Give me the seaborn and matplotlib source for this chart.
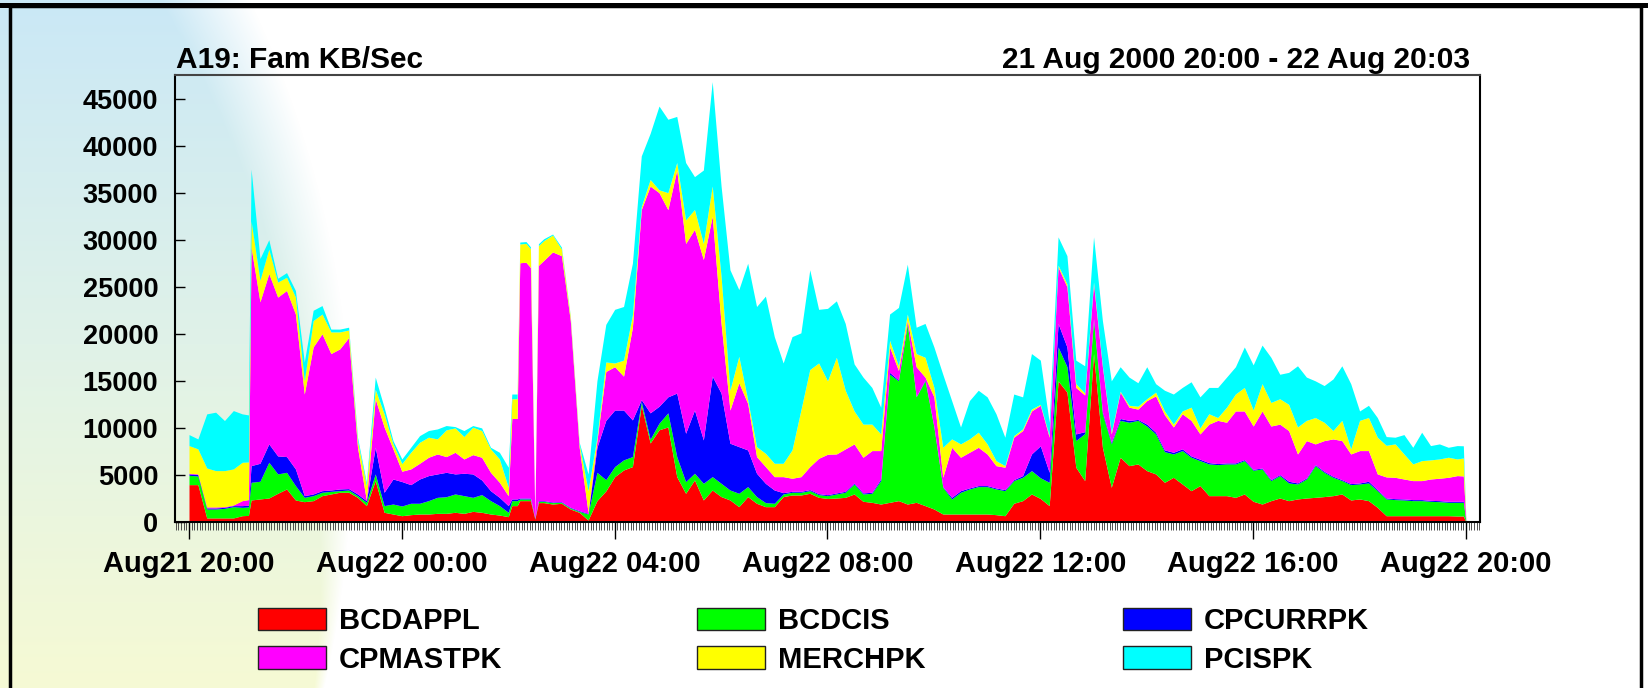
import numpy as np
import matplotlib
matplotlib.use("Agg")
import matplotlib.pyplot as plt
import seaborn as sns
from matplotlib.patches import Rectangle, Patch
from matplotlib.ticker import FixedLocator, MultipleLocator

# ---------------- data (KB/sec; sample times in minutes after Aug21 20:00) ----------------
minutes = (list(range(0, 61, 10)) + [67] + list(range(70, 361, 10))
           + [364, 370, 373, 380, 385, 390, 394] + list(range(400, 1431, 10)) + [1437, 1440])

bcdappl = [3970,3970,430,430,430,430,670,700,2340,2450,2550,
           3050,3510,2340,2160,2270,2800,2980,3160,3160,2620,
           1740,4400,1030,850,670,780,850,850,920,920,
           1030,920,1130,1030,850,740,570,1740,1740,2270,2270,2270,320,2060,
           2060,1910,1990,1380,1030,210,2270,3300,4820,5530,
           5890,12400,8400,9800,10100,4820,3050,4470,2340,3400,
           2700,2340,1630,2700,1990,1630,1630,2700,2870,2870,
           3050,2620,2500,2550,2620,2980,2200,2090,1910,2090,
           2270,1910,2090,1740,1380,850,850,850,850,850,
           850,780,670,1990,2270,2980,2500,1740,15000,13800,
           5820,4400,17900,7940,3690,6880,5990,6170,5460,5110,
           4220,4750,4040,3330,3870,2800,2800,2800,2620,2980,
           2200,1910,2270,2550,2270,2450,2550,2620,2700,2800,
           2980,2340,2450,2270,1560,670,670,670,670,670,
           670,670,670,640,640,0]

bcdcis = [990,920,950,950,1020,1200,890,900,1880,1880,3800,
          2060,1770,1530,460,530,360,280,170,240,180,
          350,710,710,1060,1030,1210,1140,1420,1700,1770,
          1950,1880,1490,1880,1420,1000,460,530,530,180,180,180,70,140,
          140,150,100,110,100,640,3010,1200,1070,1070,
          1060,400,400,700,1500,2130,1240,710,1770,1420,
          1410,1060,1420,1060,710,430,360,280,290,290,
          280,290,300,430,540,1060,780,960,2490,13610,
          12730,19190,11210,13260,8720,2840,1600,2310,2660,2910,
          2910,2730,2660,2410,2480,2480,2200,2480,3600,2700,
          2830,5000,3500,3560,4610,3920,4610,4630,4740,4250,
          3260,2480,3550,3550,2650,3370,3300,3370,3550,3540,
          3300,3730,2130,2380,1880,1590,2020,3370,2580,1950,
          1420,1630,1590,1880,1770,1780,1710,1670,1600,1600,
          1530,1490,1420,1450,1450,0]

cpcurrpk = [150,150,110,110,110,110,180,180,1770,1910,1950,
            1910,1670,1770,180,180,170,140,180,150,180,
            180,2830,1420,2660,2600,1980,2580,2660,2490,2590,
            2130,2380,2490,1560,1060,880,710,180,180,100,100,100,40,70,
            70,70,70,70,80,70,2660,6300,6010,5300,
            3900,200,2800,1800,1700,6750,5140,6720,4610,10680,
            9590,4970,4960,3900,2480,2050,1410,140,100,100,
            110,100,100,110,100,110,110,110,170,200,
            100,30,30,100,30,70,170,170,110,110,
            110,110,110,100,180,1770,3400,1060,2500,2100,
            710,200,200,200,170,200,200,100,200,180,
            180,180,180,140,150,140,110,110,110,110,
            100,100,100,110,180,110,110,110,110,110,
            100,110,110,180,110,100,100,110,110,110,
            100,110,110,110,110,0]

cpmastpk = [70,70,110,110,70,70,530,600,23210,17160,18100,
            16880,17650,16460,10800,15620,16670,14500,14890,16050,4960,
            70,5160,6940,3200,1100,1670,1670,1950,2120,1670,
            2300,1520,2050,2410,1950,1600,1060,8550,8550,25000,25050,24500,70,25000,
            25530,26570,26140,19840,6730,110,710,5200,4600,3600,
            9850,20200,24100,22700,19900,23700,20170,19200,19180,17000,
            7400,3530,6790,4940,1770,1780,1420,1700,1390,1560,
            2450,3760,4300,4140,4510,4150,3790,4430,3020,2700,
            1000,270,3170,300,3170,990,5320,3550,3790,4070,
            3360,2370,2380,4510,4790,4570,4300,3730,6000,6400,
            4940,3900,3700,4800,890,2800,1400,1100,2500,3860,
            3740,2690,3730,3780,2690,4090,4590,4320,5520,5170,
            4600,6060,5700,5360,5390,3080,3970,2200,3260,3970,
            4150,3150,3440,3260,1670,2240,2270,2120,2020,2020,
            2270,2380,2550,2730,2700,0]

merchpk = [2940,2660,4140,3860,3830,3830,4080,4000,2800,2300,2600,
           1600,1400,1800,1400,2800,2100,2300,1800,800,710,
           1530,1000,1400,530,800,1770,2230,2130,1600,2840,
           2590,2380,2910,2840,2490,2480,890,2100,2100,2000,2000,2000,70,2100,
           2100,1800,700,400,360,2300,350,1000,400,1700,
           1300,300,700,300,1800,800,2500,2100,1700,3200,
           5000,2100,2800,400,1060,1410,1420,1420,3010,7080,
           10310,10130,7800,10270,6230,3500,3520,2810,1770,700,
           500,700,1400,2100,1000,3190,890,1420,1420,1600,
           1070,530,170,170,170,200,100,170,200,300,
           400,200,200,100,180,100,200,300,200,400,
           400,300,300,1400,640,1100,300,1600,1800,2500,
           1700,2900,2500,2700,2780,2870,2150,2800,1950,890,
           2150,540,3210,3510,3900,3360,3550,2660,1770,2120,
           2030,2050,2130,1770,1900,0]

pcispk = [1170,1060,5750,6210,5320,6200,5140,5000,5500,2300,1000,
          400,500,700,2000,1100,900,300,300,300,360,
          350,1300,700,350,500,530,710,710,1060,460,
          140,640,180,280,170,710,2130,500,500,200,200,200,70,200,
          200,100,200,100,170,1780,6000,4000,5700,5700,
          5500,5400,4900,8900,7800,4900,6100,3500,7800,11100,
          9600,12800,7100,14500,14890,16700,13460,10660,12040,8200,
          10600,5700,7700,6000,7100,5000,5000,3900,2840,2800,
          6200,5300,2800,3600,4300,7760,4070,1800,4070,4460,
          5000,4980,3020,4420,3410,5900,4700,1420,3000,3000,
          2500,2900,4800,4800,5460,2600,3000,2500,3400,900,
          2200,3200,2500,2700,3300,2800,3200,3200,2900,4300,
          4800,4100,4800,2600,3400,6500,4600,3900,3900,5480,
          5800,6930,1000,1300,2090,930,710,2060,1770,3020,
          1520,1600,1060,1420,1300,0]

series_names = ["BCDAPPL", "BCDCIS", "CPCURRPK", "CPMASTPK", "MERCHPK", "PCISPK"]
series_colors = ["#FF0000", "#00FF00", "#0000FF", "#FF00FF", "#FFFF00", "#00FFFF"]
x_tick_hours = [0, 4, 8, 12, 16, 20, 24]
x_tick_labels = ["Aug21 20:00", "Aug22 00:00", "Aug22 04:00", "Aug22 08:00",
                 "Aug22 12:00", "Aug22 16:00", "Aug22 20:00"]
y_ticks = [0, 5000, 10000, 15000, 20000, 25000, 30000, 35000, 40000, 45000]
title_left = "A19: Fam KB/Sec"
title_right = "21 Aug 2000 20:00 - 22 Aug 20:03"

hours = np.array(minutes) / 60.0

# ---------------- style ----------------
sns.set_theme(style="white")
plt.rcParams['font.family'] = ['Liberation Sans', 'DejaVu Sans']
plt.rcParams['font.weight'] = 'bold'
for k in ['text.color', 'axes.labelcolor', 'xtick.color', 'ytick.color']:
    plt.rcParams[k] = 'black'

W, H = 1649, 688
fig = plt.figure(figsize=(W / 100, H / 100), dpi=100)
fig.patch.set_facecolor("white")

# decorative background gradient (left swirl)
yy, xx = np.mgrid[0:H, 0:W].astype(float)
cx, cy, r = -700.0, 450.0, 1051.0
bx = cx + np.sqrt(np.maximum(r ** 2 - (yy - cy) ** 2, 0))
t = yy / H
top = np.array([202, 232, 246], float)
mid = np.array([224, 242, 232], float)
bot = np.array([246, 250, 212], float)
col = np.where((t < 0.5)[..., None],
               top + (mid - top) * (t / 0.5)[..., None],
               mid + (bot - mid) * ((t - 0.5) / 0.5)[..., None])
fade = 80 * (1 - t) + 10
a = np.clip((bx - xx) / fade, 0, 1)[..., None]
img = (255 * (1 - a) + col * a) / 255.0
bg = fig.add_axes([0, 0, 1, 1], zorder=-10)
bg.imshow(img, aspect='auto', interpolation='bilinear')
bg.axis('off')

# main axes
ax_l, ax_r, ax_t, ax_b = 175, 1480, 75, 522
ax = fig.add_axes([ax_l / W, 1 - ax_b / H, (ax_r - ax_l) / W, (ax_b - ax_t) / H])
ax.set_facecolor('none')

ax.stackplot(hours, bcdappl, bcdcis, cpcurrpk, cpmastpk, merchpk, pcispk,
             colors=series_colors, linewidth=0, antialiased=True)

ax.set_xlim(-14 / 53.2, 24 + 14 / 53.2)
ax.set_ylim(0, 47500)

ax.yaxis.set_major_locator(FixedLocator(y_ticks))
ax.set_yticklabels([str(v) for v in y_ticks])
ax.xaxis.set_major_locator(FixedLocator(x_tick_hours))
ax.set_xticklabels(x_tick_labels)
ax.xaxis.set_minor_locator(MultipleLocator(0.05))

ax.tick_params(axis='y', which='major', direction='in', length=7, width=1,
               labelsize=19.5, pad=12, left=True, color='black', labelcolor='black')
ax.tick_params(axis='x', which='major', direction='out', length=12, width=1,
               labelsize=21, pad=8, bottom=True, color='black', labelcolor='black')
ax.tick_params(axis='x', which='minor', direction='out', length=6, width=0.6,
               bottom=True, color='#333333')
for lab in ax.get_xticklabels() + ax.get_yticklabels():
    lab.set_fontweight('bold')

for side in ['left', 'right', 'bottom']:
    ax.spines[side].set_color('black')
    ax.spines[side].set_linewidth(1.5)
ax.spines['top'].set_color('#444444')
ax.spines['top'].set_linewidth(1.5)
ax.grid(False)

# titles
fig.text(176 / W, 1 - 68 / H, title_left, ha='left', va='baseline',
         fontsize=21.5, fontweight='bold', color='black')
fig.text(1470 / W, 1 - 68 / H, title_right, ha='right', va='baseline',
         fontsize=21.5, fontweight='bold', color='black')

# legend: three columns, each a 2-row legend
col_left_px = [258, 697, 1123]
col_members = [[0, 3], [1, 4], [2, 5]]
for xl, members in zip(col_left_px, col_members):
    handles = [Patch(facecolor=series_colors[i], edgecolor='#222222', linewidth=1.0,
                     label=series_names[i]) for i in members]
    fig.legend(handles=handles, ncol=1, loc='center left',
               bbox_to_anchor=(xl / W, 1 - 640.5 / H),
               frameon=False, handlelength=2.33, handleheight=0.79,
               handletextpad=0.45, labelspacing=0.35, borderpad=0, borderaxespad=0,
               prop={'weight': 'bold', 'size': 21}, labelcolor='black')

# outer frame
fig.add_artist(Rectangle((10 / W, -0.02), (1641 - 10) / W, 1.02 - 6 / H,
                         transform=fig.transFigure, fill=False,
                         edgecolor='black', linewidth=2.5))
fig.add_artist(Rectangle((0, 1 - 8 / H), 1, 5 / H, transform=fig.transFigure,
                         facecolor='black', edgecolor='none'))

fig.savefig("out.png", dpi=100)
